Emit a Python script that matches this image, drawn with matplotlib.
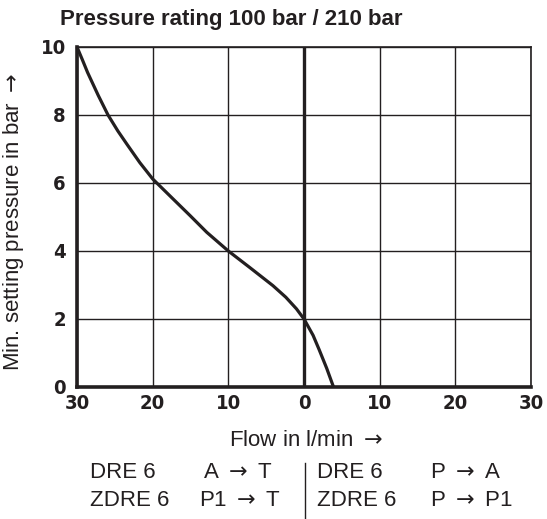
import matplotlib.pyplot as plt
from matplotlib.lines import Line2D

# curve (flow in l/min, negative = A->T side)
flow = [-30, -29.3, -28.6, -27.2, -25.9, -24.6, -23.4, -21.7, -20.0, -17.3, -15.05,
        -12.85, -10.0, -7.2, -4.1, -2.4, -1.0, 0.0, 1.2, 2.0, 3.0, 3.9]
pressure = [10.0, 9.63, 9.25, 8.58, 8.0, 7.53, 7.14, 6.6, 6.12, 5.53, 5.04,
            4.55, 4.0, 3.52, 2.98, 2.64, 2.3, 2.0, 1.52, 1.1, 0.55, 0.0]

xticks = [-30, -20, -10, 0, 10, 20, 30]
xticklabels = ['30', '20', '10', '0', '10', '20', '30']
yticks = [0, 2, 4, 6, 8, 10]

ink = '#231f20'
arrow = r'$\rightarrow$'
plt.rcParams['font.family'] = ['Liberation Sans', 'DejaVu Sans']
plt.rcParams['mathtext.fontset'] = 'dejavusans'

fig = plt.figure(figsize=(5.47, 5.19), dpi=100)
W, H = 547, 519
ax = fig.add_axes([77 / W, 1 - 387 / H, (531 - 77) / W, (387 - 47) / H])
ax.set_xlim(-30, 30)
ax.set_ylim(0, 10)

ax.set_xticks(xticks)
ax.set_xticklabels(xticklabels)
ax.set_yticks(yticks)
ax.tick_params(axis='x', length=0, pad=5, colors=ink)
ax.tick_params(axis='y', length=0, pad=8, colors=ink)
for lab in ax.get_xticklabels() + ax.get_yticklabels():
    lab.set_family('DejaVu Sans')
    lab.set_fontstretch('condensed')
    lab.set_fontweight('bold')
    lab.set_fontsize(14.5)

ax.grid(True, color=ink, linewidth=1.0)
ax.axvline(0, color=ink, linewidth=2.4)

for side in ['top', 'right']:
    ax.spines[side].set_linewidth(1.2)
    ax.spines[side].set_color(ink)
for side in ['left', 'bottom']:
    ax.spines[side].set_linewidth(2.6)
    ax.spines[side].set_color(ink)

ax.plot(flow, pressure, color=ink, linewidth=2.3, solid_capstyle='butt',
        solid_joinstyle='round', clip_on=False)

fig.text(60 / W, 1 - 20 / H, 'Pressure rating 100 bar / 210 bar', fontsize=16,
         fontweight='bold', color=ink, ha='left', va='center')
fig.text(14 / W, 1 - 222 / H, 'Min. setting pressure in bar ' + arrow, fontsize=16,
         rotation=90, color=ink, ha='center', va='center')
fig.text(306 / W, 1 - 441 / H, 'Flow in l/min ' + arrow, fontsize=16,
         color=ink, ha='center', va='center')

rows = [('DRE 6', 'A ' + arrow + ' T', 'DRE 6', 'P ' + arrow + ' A'),
        ('ZDRE 6', 'P1 ' + arrow + ' T', 'ZDRE 6', 'P ' + arrow + ' P1')]
row_y = [473, 501]
col_x = [[90, 203, 317, 430], [90, 199, 317, 430]]
for r, y, xs in zip(rows, row_y, col_x):
    for txt, x in zip(r, xs):
        fig.text(x / W, 1 - y / H, txt, fontsize=16, color=ink,
                 ha='left', va='center')

fig.add_artist(Line2D([305 / W, 305 / W], [1 - 463 / H, 0], color=ink,
                      linewidth=1.0, transform=fig.transFigure))

fig.savefig('out.png', dpi=100)
